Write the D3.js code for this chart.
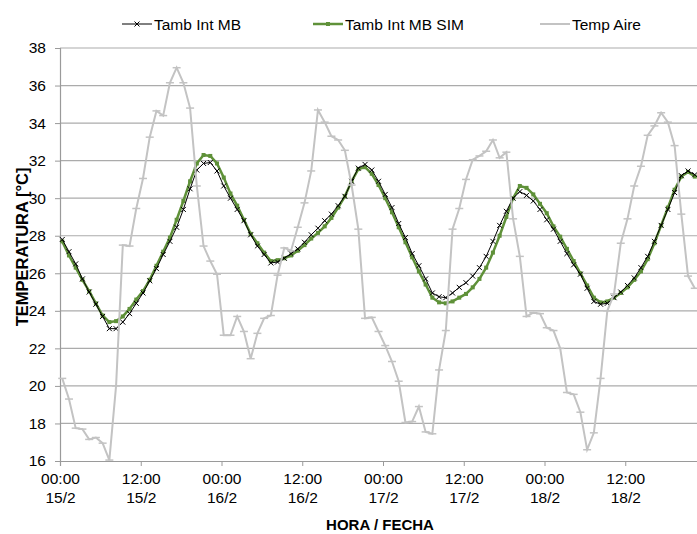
<!DOCTYPE html>
<html>
<head>
<meta charset="utf-8">
<script src="https://cdnjs.cloudflare.com/ajax/libs/d3/7.8.5/d3.min.js"></script>
<style>
    body { margin: 0; background: #fff; }
    svg text { font-family: "Liberation Sans", Arial, sans-serif; }
</style>
</head>
<body>
<div id="chart"></div>
<script>
/* global d3 */

// hourly readings, first one at 00:20 of 15/2
const seriesNames = ['Tamb Int MB', 'Tamb Int MB SIM', 'Temp Aire'];

const tambIntMB = [
    27.8, 27.15, 26.5, 25.7, 25.0, 24.35, 23.7, 23.05, 23.05, 23.4, 23.85, 24.4,
    24.95, 25.6, 26.25, 27.0, 27.7, 28.45, 29.4, 30.5, 31.5, 31.85, 31.9, 31.45,
    30.65, 30.0, 29.4, 28.8, 28.05, 27.45, 27.0, 26.55, 26.6, 26.8, 27.05, 27.3,
    27.65, 28.05, 28.4, 28.8, 29.15, 29.6, 30.1, 30.9, 31.6, 31.8, 31.5, 30.9,
    30.2, 29.5, 28.65, 27.9, 27.05, 26.4, 25.7, 24.95, 24.75, 24.7, 24.95, 25.25,
    25.5, 25.85, 26.3, 26.9, 27.7, 28.55, 29.3, 30.0, 30.35, 30.15, 29.85, 29.4,
    28.85, 28.35, 27.7, 27.05, 26.45, 25.95, 25.2, 24.5, 24.35, 24.4, 24.7, 25.0,
    25.35, 25.75, 26.3, 26.9, 27.7, 28.55, 29.4, 30.3, 31.2, 31.45, 31.25
];

const tambIntMBSim = [
    27.7, 26.95, 26.3, 25.65, 25.05, 24.4, 23.75, 23.4, 23.45, 23.7, 24.1, 24.6,
    25.05, 25.65, 26.4, 27.15, 27.9, 28.85, 29.85, 30.9, 31.85, 32.3, 32.25, 31.85,
    31.1, 30.25, 29.6, 28.85, 28.1, 27.6, 27.1, 26.65, 26.7, 26.8, 26.95, 27.2,
    27.5, 27.85, 28.15, 28.5, 28.95, 29.5, 30.1, 30.9, 31.55, 31.65, 31.3, 30.7,
    30.0, 29.25, 28.45, 27.65, 26.85, 26.1, 25.4, 24.7, 24.45, 24.4, 24.5, 24.7,
    24.9, 25.25, 25.7, 26.3, 27.1, 28.0, 29.0, 30.0, 30.65, 30.55, 30.2, 29.7,
    29.2, 28.5, 27.95, 27.3, 26.65, 26.0, 25.35, 24.7, 24.45, 24.5, 24.7, 24.95,
    25.25, 25.65, 26.1, 26.75, 27.6, 28.55, 29.5, 30.45, 31.15, 31.4, 31.15
];

const tempAire = [
    20.4, 19.3, 17.75, 17.7, 17.15, 17.25, 16.95, 16.05, 20.0, 27.5, 27.45, 29.45,
    31.05, 33.25, 34.65, 34.4, 36.15, 36.95, 36.15, 34.8, 30.65, 27.45, 26.65, 25.95,
    22.7, 22.7, 23.7, 22.9, 21.45, 22.8, 23.6, 23.75, 25.9, 27.35, 27.2, 28.45,
    29.75, 31.45, 34.7, 34.05, 33.3, 33.1, 32.55, 30.7, 28.35, 23.6, 23.65, 22.9,
    22.15, 21.3, 20.25, 18.05, 18.1, 18.9, 17.55, 17.45, 20.85, 22.95, 28.35, 29.45,
    31.0, 32.05, 32.25, 32.5, 33.1, 32.15, 32.45, 28.9, 26.9, 23.7, 23.9, 23.85,
    23.1, 22.95, 22.0, 19.65, 19.55, 18.6, 16.6, 17.5, 20.4, 24.0, 24.9, 27.6,
    28.9, 30.65, 31.7, 33.35, 33.85, 34.55, 34.05, 32.8, 29.15, 25.85, 25.2
];

const yTicks = [16, 18, 20, 22, 24, 26, 28, 30, 32, 34, 36, 38];

const fmt = {
    width: 697,
    height: 534,
    margins: {left: 60, right: -9, top: 48, bottom: 73},
    xlabel: 'HORA / FECHA',
    ylabel: 'TEMPERATURA [°C]'
};

let t0 = new Date(2014, 1, 15, 0, 0);
let hoursShown = 96;
let startOffset = 20; // minutes

let svg = d3.select('#chart').append('svg')
    .attr('width', fmt.width)
    .attr('height', fmt.height);

let width = fmt.width - fmt.margins.left - fmt.margins.right,
    height = fmt.height - fmt.margins.top - fmt.margins.bottom;

let x = d3.scaleTime()
    .domain([t0, d3.timeHour.offset(t0, hoursShown)])
    .range([0, width]);
let y = d3.scaleLinear()
    .domain([16, 38])
    .range([height, 0]);

let when = (i) => d3.timeMinute.offset(t0, i*60 + startOffset);

let g = svg.append('g')
    .attr('transform', 'translate(' + fmt.margins.left + ',' + fmt.margins.top + ')');

// horizontal grid
g.append('g')
    .selectAll('line')
    .data(yTicks.slice(1))
    .enter().append('line')
    .attr('x1', 0)
    .attr('x2', width)
    .attr('y1', (d) => y(d))
    .attr('y2', (d) => y(d))
    .attr('stroke', '#ababab')
    .attr('stroke-width', 1.2);

// x axis
let xTicks = d3.timeHour.every(12).range(t0, d3.timeHour.offset(t0, 94));
let bottom = g.append('g')
    .attr('transform', 'translate(0,' + height + ')')
    .call(d3.axisBottom(x).tickValues(xTicks).tickSize(5).tickFormat(''));
bottom.select('.domain').attr('stroke', '#9a9a9a').attr('stroke-width', 1.2);
bottom.selectAll('.tick line').attr('stroke', '#9a9a9a');

let xl = bottom.selectAll('.tick').append('text')
    .attr('fill', '#000')
    .attr('font-size', 15.5)
    .attr('text-anchor', 'middle');
xl.append('tspan').attr('x', 0).attr('y', 23).text(d3.timeFormat('%H:%M'));
xl.append('tspan').attr('x', 0).attr('y', 42).text((d) => d.getDate() + '/' + (d.getMonth() + 1));

bottom.append('text')
    .attr('fill', '#000')
    .attr('font-size', 15)
    .attr('font-weight', 'bold')
    .attr('x', 320)
    .attr('y', 69)
    .attr('text-anchor', 'middle')
    .text(fmt.xlabel);

// y axis
let left = g.append('g')
    .call(d3.axisLeft(y).tickValues(yTicks).tickSize(5).tickPadding(9));
left.select('.domain').attr('stroke', '#9a9a9a').attr('stroke-width', 1.2);
left.selectAll('.tick line').attr('stroke', '#9a9a9a');
left.selectAll('.tick text')
    .attr('fill', '#000')
    .attr('font-size', 15.5)
    .attr('font-family', '"Liberation Sans", Arial, sans-serif');

left.append('text')
    .attr('fill', '#000')
    .attr('font-size', 16.5)
    .attr('font-weight', 'bold')
    .attr('transform', 'rotate(-90)')
    .attr('x', -(y(27.4)))
    .attr('y', -32)
    .attr('text-anchor', 'middle')
    .text(fmt.ylabel);

let line = d3.line()
    .x((d, i) => x(when(i)))
    .y((d) => y(d));

// SIM series
g.append('path').datum(tambIntMBSim)
    .attr('fill', 'none')
    .attr('stroke', '#5f9139')
    .attr('stroke-width', 2.5)
    .attr('d', line);
g.selectAll('.sim')
    .data(tambIntMBSim)
    .enter().append('rect')
    .attr('x', (d, i) => x(when(i)) - 2)
    .attr('y', (d) => y(d) - 2)
    .attr('width', 4)
    .attr('height', 4)
    .attr('fill', '#5f9139');

// measured series
g.append('path').datum(tambIntMB)
    .attr('fill', 'none')
    .attr('stroke', '#000')
    .attr('stroke-width', 1)
    .attr('d', line);
g.selectAll('.mb')
    .data(tambIntMB)
    .enter().append('path')
    .attr('d', (d, i) => {
        let cx = x(when(i)), cy = y(d), r = 2.5;
        return 'M' + (cx - r) + ',' + (cy - r) + 'L' + (cx + r) + ',' + (cy + r) +
            'M' + (cx - r) + ',' + (cy + r) + 'L' + (cx + r) + ',' + (cy - r);
    })
    .attr('stroke', '#000')
    .attr('stroke-width', 1);

// air temperature
g.append('path').datum(tempAire)
    .attr('fill', 'none')
    .attr('stroke', '#c3c3c3')
    .attr('stroke-width', 2)
    .attr('d', line);
g.selectAll('.aire')
    .data(tempAire)
    .enter().append('line')
    .attr('x1', (d, i) => x(when(i)) - 4)
    .attr('x2', (d, i) => x(when(i)) + 4)
    .attr('y1', (d) => y(d))
    .attr('y2', (d) => y(d))
    .attr('stroke', '#c3c3c3')
    .attr('stroke-width', 1.5);

// legend
let legend = svg.append('g').attr('transform', 'translate(0,24)');
let legendX = [122, 313, 540];
let legendColor = ['#000', '#5f9139', '#c3c3c3'];
let legendWidth = [1, 2.5, 2];

seriesNames.forEach((name, i) => {
    let item = legend.append('g').attr('transform', 'translate(' + legendX[i] + ',0)');
    item.append('line')
        .attr('x1', 0).attr('x2', 30)
        .attr('y1', 0).attr('y2', 0)
        .attr('stroke', legendColor[i])
        .attr('stroke-width', legendWidth[i]);
    if (i == 0) {
        item.append('path')
            .attr('d', 'M12.5,-2.5L17.5,2.5M12.5,2.5L17.5,-2.5')
            .attr('stroke', '#000');
    } else if (i == 1) {
        item.append('rect')
            .attr('x', 13).attr('y', -2)
            .attr('width', 4).attr('height', 4)
            .attr('fill', legendColor[i]);
    }
    item.append('text')
        .attr('x', 32)
        .attr('y', 5.5)
        .attr('font-size', 15.5)
        .attr('fill', '#000')
        .text(name);
});
</script>
</body>
</html>
